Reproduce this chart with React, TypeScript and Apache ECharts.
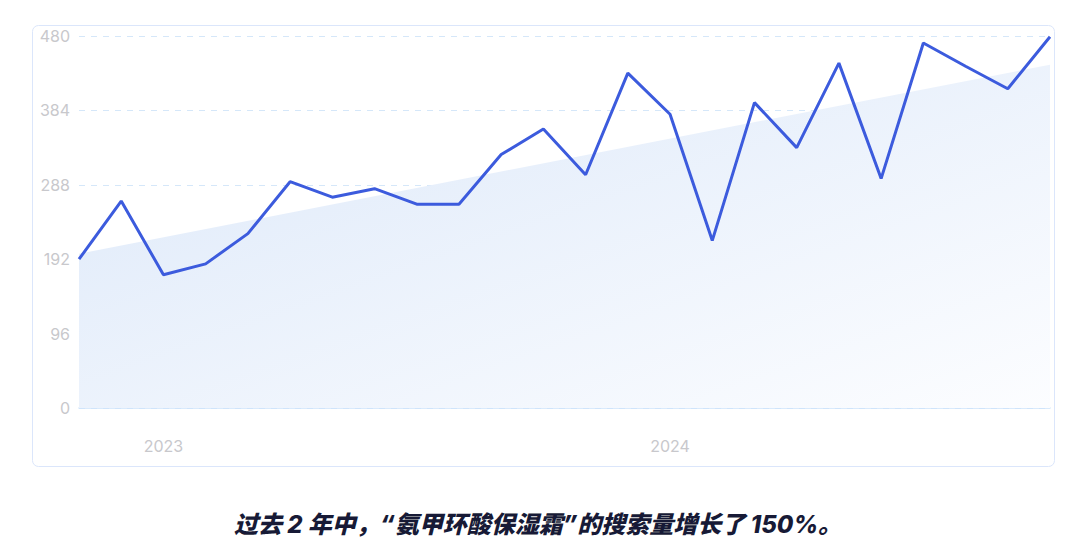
import React, { useEffect, useRef } from "react";
import * as echarts from "echarts";

const months = [
  "2022-11", "2022-12", "2023-01", "2023-02", "2023-03", "2023-04", "2023-05", "2023-06",
  "2023-07", "2023-08", "2023-09", "2023-10", "2023-11", "2023-12", "2024-01", "2024-02",
  "2024-03", "2024-04", "2024-05", "2024-06", "2024-07", "2024-08", "2024-09", "2024-10",
];
const searchVolume = [
  192, 267, 172, 186, 225, 292, 272, 283, 263, 263, 327, 360,
  301, 432, 379, 216, 394, 336, 445, 296, 471, 441, 412, 479,
];
const trendStart = 199;
const trendEnd = 443;
const yTicks = [0, 96, 192, 288, 384, 480];
const yearLabels: Record<string, string> = { "2023-01": "2023", "2024-01": "2024" };
const caption = "过去 2 年中，\u201C氨甲环酸保湿霜\u201D的搜索量增长了 150%。";

export default function App() {
  const ref = useRef<HTMLDivElement>(null);
  useEffect(() => {
    if (!ref.current) return;
    const chart = echarts.init(ref.current, null, { renderer: "svg" });
    const lastIdx = months.length - 1;
    chart.setOption({
      animation: false,
      grid: { left: 79, right: 24, top: 36, bottom: 146, containLabel: false },
      graphic: [
        {
          type: "rect",
          shape: { x: 32.5, y: 25.5, width: 1022, height: 441, r: 6 },
          style: { fill: "none", stroke: "#dbe6fb", lineWidth: 1 },
          z: -10,
        },
        {
          type: "text",
          x: 538,
          y: 524,
          style: {
            text: caption,
            fontSize: 24,
            fontWeight: 800,
            fontStyle: "italic",
            fill: "#171a36",
            align: "center",
            verticalAlign: "middle",
            fontFamily: "Inter, 'Noto Sans CJK SC', sans-serif",
          },
        },
      ],
      xAxis: [
        {
          type: "category",
          data: months,
          boundaryGap: false,
          axisLine: { show: true, lineStyle: { color: "#cde3fb", width: 1.5 } },
          axisTick: { show: false },
          axisLabel: {
            interval: (idx: number, val: string) => !!yearLabels[val],
            formatter: (val: string) => yearLabels[val] || "",
            margin: 30,
            color: "#c8c8cc",
            fontSize: 16,
            fontFamily: "Inter, Roboto, sans-serif",
          },
          splitLine: { show: false },
        },
        {
          type: "value",
          min: 0,
          max: lastIdx,
          show: false,
        },
      ],
      yAxis: {
        type: "value",
        min: 0,
        max: 480,
        interval: 96,
        axisLine: { show: false },
        axisTick: { show: false },
        axisLabel: {
          margin: 9,
          color: "#c8c8cc",
          fontSize: 16,
          fontFamily: "Inter, Roboto, sans-serif",
          customValues: yTicks,
        },
        splitLine: {
          show: true,
          lineStyle: { color: "#d5e7f9", type: [6, 6], width: 1 },
        },
      },
      series: [
        {
          type: "line",
          xAxisIndex: 1,
          data: [
            [0, trendStart],
            [lastIdx, trendEnd],
          ],
          symbol: "none",
          lineStyle: { width: 0, opacity: 0 },
          areaStyle: {
            opacity: 1,
            color: new echarts.graphic.LinearGradient(0, 0, 1, 1, [
              { offset: 0, color: "#dce8f9" },
              { offset: 1, color: "#fcfdff" },
            ]),
          },
          z: 1,
          silent: true,
        },
        {
          type: "line",
          data: searchVolume,
          symbol: "none",
          lineStyle: { color: "#3c5bdd", width: 3 },
          z: 3,
        },
      ],
    });
    return () => chart.dispose();
  }, []);
  return (
    <div
      ref={ref}
      style={{ position: "absolute", left: 0, top: 0, width: 1074, height: 554, background: "#fff" }}
    />
  );
}
